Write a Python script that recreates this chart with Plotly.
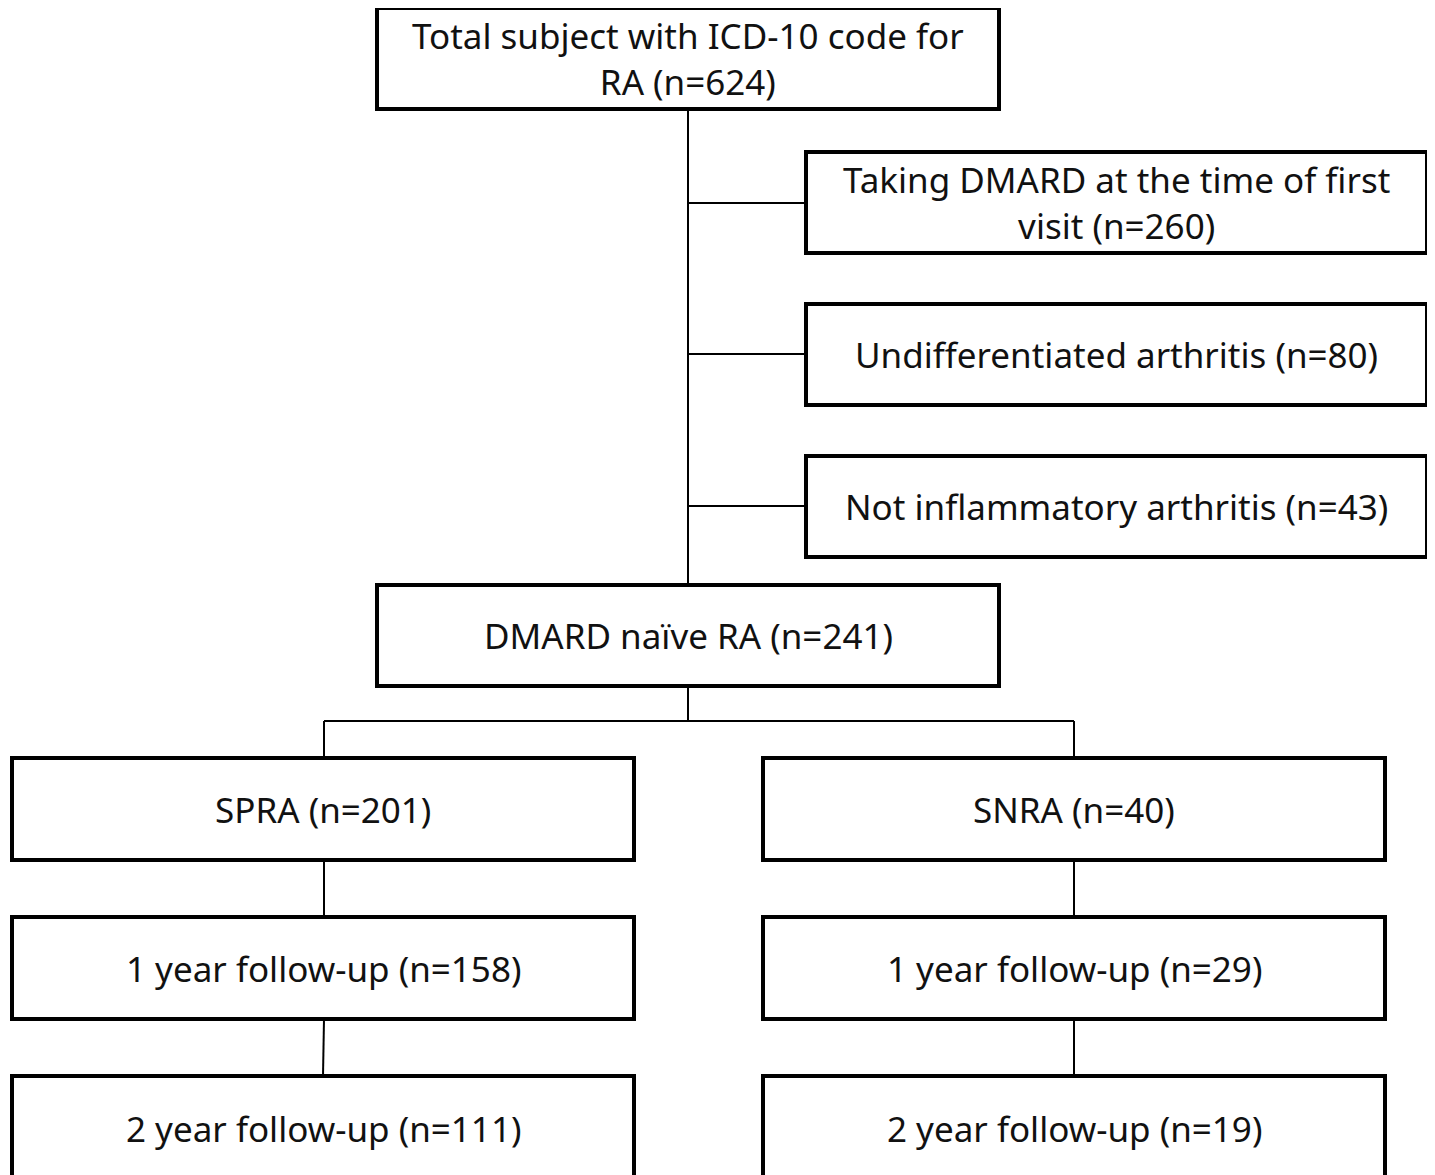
import plotly.graph_objects as go

# Flowchart content
box_labels = [
    "Total subject with ICD-10 code for<br>RA (n=624)",
    "Taking DMARD at the time of first<br>visit (n=260)",
    "Undifferentiated arthritis (n=80)",
    "Not inflammatory arthritis (n=43)",
    "DMARD naïve RA (n=241)",
    "SPRA (n=201)",
    "1 year follow-up (n=158)",
    "2 year follow-up (n=111)",
    "SNRA (n=40)",
    "1 year follow-up (n=29)",
    "2 year follow-up (n=19)",
]

# Box geometry (layout, pixels): x0, y0, x1, y1
box_geom = [
    (377, 8, 999, 109),
    (806, 152, 1427, 253),
    (806, 304, 1427, 405),
    (806, 456, 1427, 557),
    (377, 585, 999, 686),
    (12, 758, 634, 860),
    (12, 917, 634, 1019),
    (12, 1076, 634, 1200),
    (763, 758, 1385, 860),
    (763, 917, 1385, 1019),
    (763, 1076, 1385, 1200),
]

# Connector segments (layout, pixels)
connectors = [
    (688, 109, 688, 585),
    (688, 203, 806, 203),
    (688, 354, 806, 354),
    (688, 506, 806, 506),
    (688, 686, 688, 721),
    (324, 721, 1074, 721),
    (324, 721, 324, 758),
    (1074, 721, 1074, 758),
    (324, 860, 324, 917),
    (324, 1019, 323, 1076),
    (1074, 860, 1074, 917),
    (1074, 1019, 1074, 1076),
]

W, H = 1435, 1175
OFF = 8  # page body margin
fig = go.Figure()

shapes = []
for (x0, y0, x1, y1) in connectors:
    shapes.append(dict(type="line", x0=x0, y0=y0, x1=x1, y1=y1,
                       xref="x", yref="y", line=dict(color="black", width=2)))
for (x0, y0, x1, y1) in box_geom:
    shapes.append(dict(type="rect", x0=x0, y0=y0, x1=x1, y1=y1,
                       xref="x", yref="y", fillcolor="white",
                       line=dict(color="black", width=4)))

annotations = []
for label, (x0, y0, x1, y1) in zip(box_labels, box_geom):
    yc = (y0 + y1) / 2
    if y1 > H:
        yc = 1128
    annotations.append(dict(x=(x0 + x1) / 2, y=yc, xref="x", yref="y",
                            text=label, showarrow=False,
                            font=dict(family="Noto Sans", size=35, color="#111"),
                            xanchor="center", yanchor="middle", align="center"))

fig.update_layout(
    width=W - OFF, height=H - OFF,
    margin=dict(l=0, r=0, t=0, b=0),
    paper_bgcolor="white", plot_bgcolor="white",
    xaxis=dict(range=[OFF, W], visible=False, fixedrange=True),
    yaxis=dict(range=[H, OFF], visible=False, fixedrange=True),
    shapes=shapes, annotations=annotations, showlegend=False,
)
fig.write_html("out.html")
